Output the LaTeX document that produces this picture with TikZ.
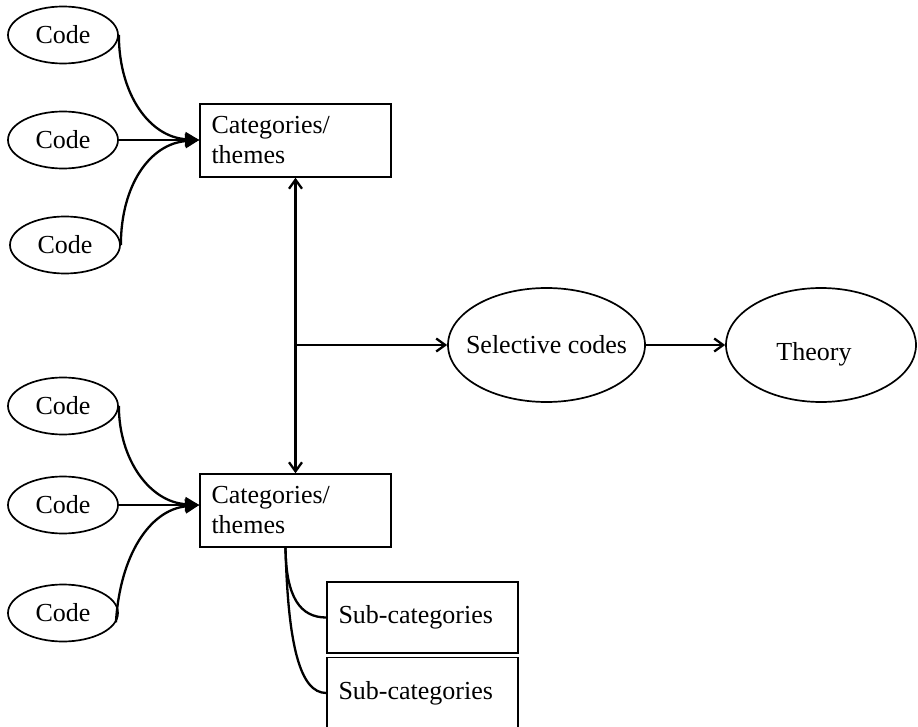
\documentclass[tikz,border=0pt]{standalone}
\usepackage{fontspec}
\setmainfont{Liberation Serif}
\usetikzlibrary{arrows.meta,shapes.geometric}
\begin{document}
\begin{tikzpicture}[x=1pt,y=-1pt,
  every node/.style={font=\fontsize{26}{30}\selectfont},
  codebubble/.style={ellipse,draw,line width=1.7pt,minimum width=110pt,minimum height=57pt,inner sep=0pt},
  bigbubble/.style={ellipse,draw,line width=1.7pt,inner sep=0pt,minimum height=114pt},
  catbox/.style={rectangle,draw,line width=1.5pt,minimum height=73pt,text width=168pt,
    inner xsep=11.5pt,inner ysep=0pt,align=left},
  link/.style={line width=2.3pt},
  feed/.style={link,-{Triangle[length=14pt,width=14pt]}},
  flow/.style={link,-{Straight Barb[length=9pt,width=13pt]}},
  flowboth/.style={link,{Straight Barb[length=9pt,width=13pt]}-{Straight Barb[length=9pt,width=13pt]}},
]
\clip (0,0) rectangle (918,727);
\fill[white] (0,0) rectangle (918,727);

% first group of codes
\node[codebubble] (code1) at (63,35)  {Code};
\node[codebubble] (code2) at (63,140) {Code};
\node[codebubble] (code3) at (65,245) {Code};
\node[catbox] (cat1) at (295.5,140.5) {Categories/\\themes};

% second group of codes
\node[codebubble] (code4) at (63,406) {Code};
\node[codebubble] (code5) at (63,505) {Code};
\node[codebubble] (code6) at (63,613) {Code};
\node[catbox] (cat2) at (295.5,510.5) {Categories/\\themes};

% sub-categories under the second category box
\node[catbox,minimum height=71pt] (sub1) at (422.5,617.5) {Sub-categories};
\node[catbox,minimum height=71pt] (sub2) at (422.5,693)   {Sub-categories};

% selective codes and theory (zero-width text boxes so the ellipse keeps its set size)
\node[bigbubble,minimum width=197pt] (sel) at (546.5,345) {\makebox[0pt]{Selective codes}};
\node[bigbubble,minimum width=190pt,text height=36pt,text depth=6pt] (theory) at (821,345)
  {\makebox[0pt]{\kern-14pt Theory}};

% codes feeding the category boxes
\coordinate (in1) at (cat1.west |- code2.east);
\coordinate (in2) at (cat2.west |- code5.east);
\draw[feed] (code2.east) -- (in1);
\draw[feed] (code1.east) .. controls (119,95) and (150,137) .. (in1);
\draw[feed] (code3.east) .. controls (121,185) and (150,144) .. (in1);
\draw[feed] (code5.east) -- (in2);
\draw[feed] (code4.east) .. controls (119,460) and (150,502) .. (in2);
\draw[feed] (code6.-10) .. controls (120,555) and (150,510) .. (in2);

% link between the category boxes and on to selective codes
\draw[flowboth] (cat1.south) -- (cat2.north);
\coordinate (junction) at (cat1.south |- sel.west);
\draw[flow] (junction) -- (sel.west);
\draw[flow] (sel.east) -- (theory.west);

% branches to the sub-categories
\coordinate (fork) at ([xshift=-10pt]cat2.south);
\draw[link] (fork) .. controls (286,597) and (300,617.5) .. (sub1.west);
\draw[link] (fork) .. controls (288,645) and (300,693) .. (sub2.west);
\end{tikzpicture}
\end{document}
